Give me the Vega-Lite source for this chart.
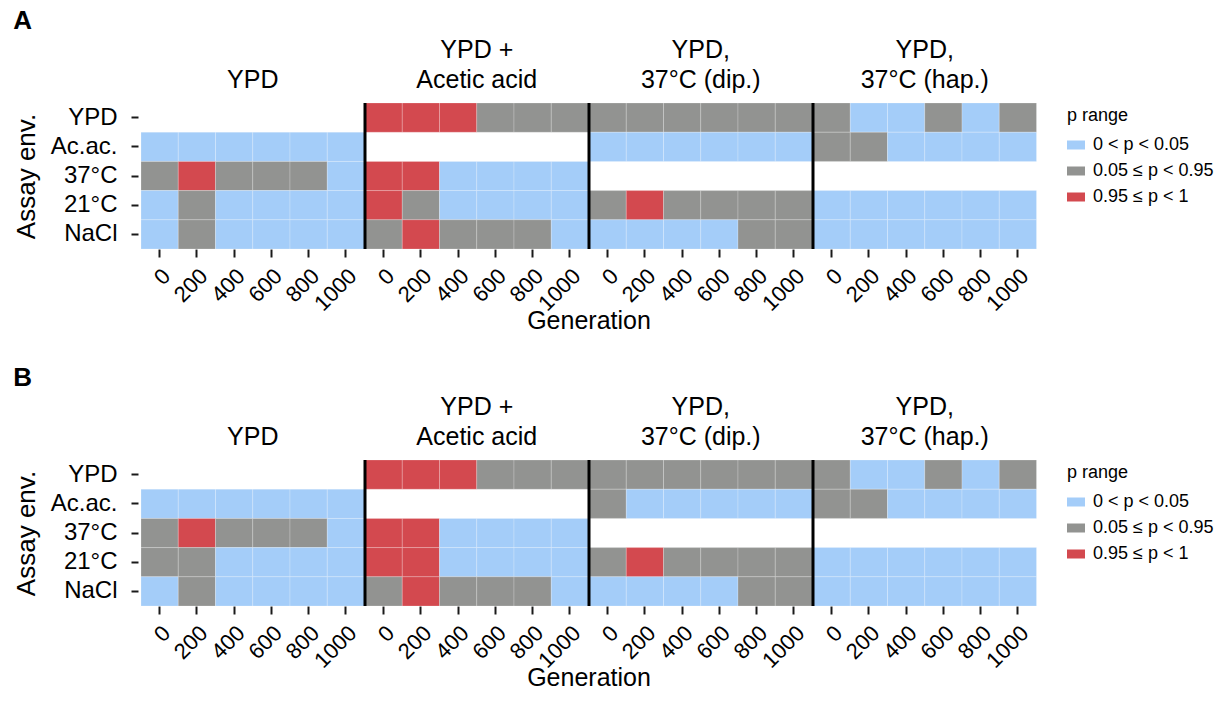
{
  "$schema": "https://vega.github.io/schema/vega-lite/v6.json",
  "padding": {"left": 13, "top": 8, "right": 2, "bottom": 4},
  "config": {
    "font": "Liberation Sans",
    "view": {"stroke": null},
    "axis": {
      "domain": false, "grid": false,
      "tickColor": "#1a1a1a", "tickWidth": 2,
      "labelColor": "#000", "titleColor": "#000",
      "labelFontSize": 24, "titleFontSize": 26, "titleFontWeight": "normal"
    },
    "header": {
      "labelFontSize": 25, "labelColor": "#000", "labelLineHeight": 30, "labelBaseline": "middle", "labelPadding": -2,
      "titleFontSize": 25, "titleFontWeight": "normal", "titleColor": "#000", "titlePadding": -16
    },
    "legend": {
      "titleFontSize": 18, "titleFontWeight": "normal", "titleColor": "#000",
      "labelFontSize": 18, "labelColor": "#000", "labelOffset": 8,
      "symbolType": "M-1,-0.5H1V0.5H-1Z", "symbolSize": 324, "symbolStrokeWidth": 0, "symbolOpacity": 1,
      "rowPadding": 8, "titlePadding": 11, "offset": 26, "padding": 4
    },
    "title": {"fontSize": 26, "fontWeight": "bold", "anchor": "start", "frame": "bounds", "color": "#000", "offset": 4}
  },
  "data": {"values": [
    {"panel":"A","condition":"YPD","env":"Ac.ac.","gen":0,"p":"0 < p < 0.05"},
    {"panel":"A","condition":"YPD","env":"Ac.ac.","gen":200,"p":"0 < p < 0.05"},
    {"panel":"A","condition":"YPD","env":"Ac.ac.","gen":400,"p":"0 < p < 0.05"},
    {"panel":"A","condition":"YPD","env":"Ac.ac.","gen":600,"p":"0 < p < 0.05"},
    {"panel":"A","condition":"YPD","env":"Ac.ac.","gen":800,"p":"0 < p < 0.05"},
    {"panel":"A","condition":"YPD","env":"Ac.ac.","gen":1000,"p":"0 < p < 0.05"},
    {"panel":"A","condition":"YPD","env":"37°C","gen":0,"p":"0.05 ≤ p < 0.95"},
    {"panel":"A","condition":"YPD","env":"37°C","gen":200,"p":"0.95 ≤ p < 1"},
    {"panel":"A","condition":"YPD","env":"37°C","gen":400,"p":"0.05 ≤ p < 0.95"},
    {"panel":"A","condition":"YPD","env":"37°C","gen":600,"p":"0.05 ≤ p < 0.95"},
    {"panel":"A","condition":"YPD","env":"37°C","gen":800,"p":"0.05 ≤ p < 0.95"},
    {"panel":"A","condition":"YPD","env":"37°C","gen":1000,"p":"0 < p < 0.05"},
    {"panel":"A","condition":"YPD","env":"21°C","gen":0,"p":"0 < p < 0.05"},
    {"panel":"A","condition":"YPD","env":"21°C","gen":200,"p":"0.05 ≤ p < 0.95"},
    {"panel":"A","condition":"YPD","env":"21°C","gen":400,"p":"0 < p < 0.05"},
    {"panel":"A","condition":"YPD","env":"21°C","gen":600,"p":"0 < p < 0.05"},
    {"panel":"A","condition":"YPD","env":"21°C","gen":800,"p":"0 < p < 0.05"},
    {"panel":"A","condition":"YPD","env":"21°C","gen":1000,"p":"0 < p < 0.05"},
    {"panel":"A","condition":"YPD","env":"NaCl","gen":0,"p":"0 < p < 0.05"},
    {"panel":"A","condition":"YPD","env":"NaCl","gen":200,"p":"0.05 ≤ p < 0.95"},
    {"panel":"A","condition":"YPD","env":"NaCl","gen":400,"p":"0 < p < 0.05"},
    {"panel":"A","condition":"YPD","env":"NaCl","gen":600,"p":"0 < p < 0.05"},
    {"panel":"A","condition":"YPD","env":"NaCl","gen":800,"p":"0 < p < 0.05"},
    {"panel":"A","condition":"YPD","env":"NaCl","gen":1000,"p":"0 < p < 0.05"},

    {"panel":"A","condition":"YPD +\nAcetic acid","env":"YPD","gen":0,"p":"0.95 ≤ p < 1"},
    {"panel":"A","condition":"YPD +\nAcetic acid","env":"YPD","gen":200,"p":"0.95 ≤ p < 1"},
    {"panel":"A","condition":"YPD +\nAcetic acid","env":"YPD","gen":400,"p":"0.95 ≤ p < 1"},
    {"panel":"A","condition":"YPD +\nAcetic acid","env":"YPD","gen":600,"p":"0.05 ≤ p < 0.95"},
    {"panel":"A","condition":"YPD +\nAcetic acid","env":"YPD","gen":800,"p":"0.05 ≤ p < 0.95"},
    {"panel":"A","condition":"YPD +\nAcetic acid","env":"YPD","gen":1000,"p":"0.05 ≤ p < 0.95"},
    {"panel":"A","condition":"YPD +\nAcetic acid","env":"37°C","gen":0,"p":"0.95 ≤ p < 1"},
    {"panel":"A","condition":"YPD +\nAcetic acid","env":"37°C","gen":200,"p":"0.95 ≤ p < 1"},
    {"panel":"A","condition":"YPD +\nAcetic acid","env":"37°C","gen":400,"p":"0 < p < 0.05"},
    {"panel":"A","condition":"YPD +\nAcetic acid","env":"37°C","gen":600,"p":"0 < p < 0.05"},
    {"panel":"A","condition":"YPD +\nAcetic acid","env":"37°C","gen":800,"p":"0 < p < 0.05"},
    {"panel":"A","condition":"YPD +\nAcetic acid","env":"37°C","gen":1000,"p":"0 < p < 0.05"},
    {"panel":"A","condition":"YPD +\nAcetic acid","env":"21°C","gen":0,"p":"0.95 ≤ p < 1"},
    {"panel":"A","condition":"YPD +\nAcetic acid","env":"21°C","gen":200,"p":"0.05 ≤ p < 0.95"},
    {"panel":"A","condition":"YPD +\nAcetic acid","env":"21°C","gen":400,"p":"0 < p < 0.05"},
    {"panel":"A","condition":"YPD +\nAcetic acid","env":"21°C","gen":600,"p":"0 < p < 0.05"},
    {"panel":"A","condition":"YPD +\nAcetic acid","env":"21°C","gen":800,"p":"0 < p < 0.05"},
    {"panel":"A","condition":"YPD +\nAcetic acid","env":"21°C","gen":1000,"p":"0 < p < 0.05"},
    {"panel":"A","condition":"YPD +\nAcetic acid","env":"NaCl","gen":0,"p":"0.05 ≤ p < 0.95"},
    {"panel":"A","condition":"YPD +\nAcetic acid","env":"NaCl","gen":200,"p":"0.95 ≤ p < 1"},
    {"panel":"A","condition":"YPD +\nAcetic acid","env":"NaCl","gen":400,"p":"0.05 ≤ p < 0.95"},
    {"panel":"A","condition":"YPD +\nAcetic acid","env":"NaCl","gen":600,"p":"0.05 ≤ p < 0.95"},
    {"panel":"A","condition":"YPD +\nAcetic acid","env":"NaCl","gen":800,"p":"0.05 ≤ p < 0.95"},
    {"panel":"A","condition":"YPD +\nAcetic acid","env":"NaCl","gen":1000,"p":"0 < p < 0.05"},

    {"panel":"A","condition":"YPD,\n37°C (dip.)","env":"YPD","gen":0,"p":"0.05 ≤ p < 0.95"},
    {"panel":"A","condition":"YPD,\n37°C (dip.)","env":"YPD","gen":200,"p":"0.05 ≤ p < 0.95"},
    {"panel":"A","condition":"YPD,\n37°C (dip.)","env":"YPD","gen":400,"p":"0.05 ≤ p < 0.95"},
    {"panel":"A","condition":"YPD,\n37°C (dip.)","env":"YPD","gen":600,"p":"0.05 ≤ p < 0.95"},
    {"panel":"A","condition":"YPD,\n37°C (dip.)","env":"YPD","gen":800,"p":"0.05 ≤ p < 0.95"},
    {"panel":"A","condition":"YPD,\n37°C (dip.)","env":"YPD","gen":1000,"p":"0.05 ≤ p < 0.95"},
    {"panel":"A","condition":"YPD,\n37°C (dip.)","env":"Ac.ac.","gen":0,"p":"0 < p < 0.05"},
    {"panel":"A","condition":"YPD,\n37°C (dip.)","env":"Ac.ac.","gen":200,"p":"0 < p < 0.05"},
    {"panel":"A","condition":"YPD,\n37°C (dip.)","env":"Ac.ac.","gen":400,"p":"0 < p < 0.05"},
    {"panel":"A","condition":"YPD,\n37°C (dip.)","env":"Ac.ac.","gen":600,"p":"0 < p < 0.05"},
    {"panel":"A","condition":"YPD,\n37°C (dip.)","env":"Ac.ac.","gen":800,"p":"0 < p < 0.05"},
    {"panel":"A","condition":"YPD,\n37°C (dip.)","env":"Ac.ac.","gen":1000,"p":"0 < p < 0.05"},
    {"panel":"A","condition":"YPD,\n37°C (dip.)","env":"21°C","gen":0,"p":"0.05 ≤ p < 0.95"},
    {"panel":"A","condition":"YPD,\n37°C (dip.)","env":"21°C","gen":200,"p":"0.95 ≤ p < 1"},
    {"panel":"A","condition":"YPD,\n37°C (dip.)","env":"21°C","gen":400,"p":"0.05 ≤ p < 0.95"},
    {"panel":"A","condition":"YPD,\n37°C (dip.)","env":"21°C","gen":600,"p":"0.05 ≤ p < 0.95"},
    {"panel":"A","condition":"YPD,\n37°C (dip.)","env":"21°C","gen":800,"p":"0.05 ≤ p < 0.95"},
    {"panel":"A","condition":"YPD,\n37°C (dip.)","env":"21°C","gen":1000,"p":"0.05 ≤ p < 0.95"},
    {"panel":"A","condition":"YPD,\n37°C (dip.)","env":"NaCl","gen":0,"p":"0 < p < 0.05"},
    {"panel":"A","condition":"YPD,\n37°C (dip.)","env":"NaCl","gen":200,"p":"0 < p < 0.05"},
    {"panel":"A","condition":"YPD,\n37°C (dip.)","env":"NaCl","gen":400,"p":"0 < p < 0.05"},
    {"panel":"A","condition":"YPD,\n37°C (dip.)","env":"NaCl","gen":600,"p":"0 < p < 0.05"},
    {"panel":"A","condition":"YPD,\n37°C (dip.)","env":"NaCl","gen":800,"p":"0.05 ≤ p < 0.95"},
    {"panel":"A","condition":"YPD,\n37°C (dip.)","env":"NaCl","gen":1000,"p":"0.05 ≤ p < 0.95"},

    {"panel":"A","condition":"YPD,\n37°C (hap.)","env":"YPD","gen":0,"p":"0.05 ≤ p < 0.95"},
    {"panel":"A","condition":"YPD,\n37°C (hap.)","env":"YPD","gen":200,"p":"0 < p < 0.05"},
    {"panel":"A","condition":"YPD,\n37°C (hap.)","env":"YPD","gen":400,"p":"0 < p < 0.05"},
    {"panel":"A","condition":"YPD,\n37°C (hap.)","env":"YPD","gen":600,"p":"0.05 ≤ p < 0.95"},
    {"panel":"A","condition":"YPD,\n37°C (hap.)","env":"YPD","gen":800,"p":"0 < p < 0.05"},
    {"panel":"A","condition":"YPD,\n37°C (hap.)","env":"YPD","gen":1000,"p":"0.05 ≤ p < 0.95"},
    {"panel":"A","condition":"YPD,\n37°C (hap.)","env":"Ac.ac.","gen":0,"p":"0.05 ≤ p < 0.95"},
    {"panel":"A","condition":"YPD,\n37°C (hap.)","env":"Ac.ac.","gen":200,"p":"0.05 ≤ p < 0.95"},
    {"panel":"A","condition":"YPD,\n37°C (hap.)","env":"Ac.ac.","gen":400,"p":"0 < p < 0.05"},
    {"panel":"A","condition":"YPD,\n37°C (hap.)","env":"Ac.ac.","gen":600,"p":"0 < p < 0.05"},
    {"panel":"A","condition":"YPD,\n37°C (hap.)","env":"Ac.ac.","gen":800,"p":"0 < p < 0.05"},
    {"panel":"A","condition":"YPD,\n37°C (hap.)","env":"Ac.ac.","gen":1000,"p":"0 < p < 0.05"},
    {"panel":"A","condition":"YPD,\n37°C (hap.)","env":"21°C","gen":0,"p":"0 < p < 0.05"},
    {"panel":"A","condition":"YPD,\n37°C (hap.)","env":"21°C","gen":200,"p":"0 < p < 0.05"},
    {"panel":"A","condition":"YPD,\n37°C (hap.)","env":"21°C","gen":400,"p":"0 < p < 0.05"},
    {"panel":"A","condition":"YPD,\n37°C (hap.)","env":"21°C","gen":600,"p":"0 < p < 0.05"},
    {"panel":"A","condition":"YPD,\n37°C (hap.)","env":"21°C","gen":800,"p":"0 < p < 0.05"},
    {"panel":"A","condition":"YPD,\n37°C (hap.)","env":"21°C","gen":1000,"p":"0 < p < 0.05"},
    {"panel":"A","condition":"YPD,\n37°C (hap.)","env":"NaCl","gen":0,"p":"0 < p < 0.05"},
    {"panel":"A","condition":"YPD,\n37°C (hap.)","env":"NaCl","gen":200,"p":"0 < p < 0.05"},
    {"panel":"A","condition":"YPD,\n37°C (hap.)","env":"NaCl","gen":400,"p":"0 < p < 0.05"},
    {"panel":"A","condition":"YPD,\n37°C (hap.)","env":"NaCl","gen":600,"p":"0 < p < 0.05"},
    {"panel":"A","condition":"YPD,\n37°C (hap.)","env":"NaCl","gen":800,"p":"0 < p < 0.05"},
    {"panel":"A","condition":"YPD,\n37°C (hap.)","env":"NaCl","gen":1000,"p":"0 < p < 0.05"},

    {"panel":"B","condition":"YPD","env":"Ac.ac.","gen":0,"p":"0 < p < 0.05"},
    {"panel":"B","condition":"YPD","env":"Ac.ac.","gen":200,"p":"0 < p < 0.05"},
    {"panel":"B","condition":"YPD","env":"Ac.ac.","gen":400,"p":"0 < p < 0.05"},
    {"panel":"B","condition":"YPD","env":"Ac.ac.","gen":600,"p":"0 < p < 0.05"},
    {"panel":"B","condition":"YPD","env":"Ac.ac.","gen":800,"p":"0 < p < 0.05"},
    {"panel":"B","condition":"YPD","env":"Ac.ac.","gen":1000,"p":"0 < p < 0.05"},
    {"panel":"B","condition":"YPD","env":"37°C","gen":0,"p":"0.05 ≤ p < 0.95"},
    {"panel":"B","condition":"YPD","env":"37°C","gen":200,"p":"0.95 ≤ p < 1"},
    {"panel":"B","condition":"YPD","env":"37°C","gen":400,"p":"0.05 ≤ p < 0.95"},
    {"panel":"B","condition":"YPD","env":"37°C","gen":600,"p":"0.05 ≤ p < 0.95"},
    {"panel":"B","condition":"YPD","env":"37°C","gen":800,"p":"0.05 ≤ p < 0.95"},
    {"panel":"B","condition":"YPD","env":"37°C","gen":1000,"p":"0 < p < 0.05"},
    {"panel":"B","condition":"YPD","env":"21°C","gen":0,"p":"0.05 ≤ p < 0.95"},
    {"panel":"B","condition":"YPD","env":"21°C","gen":200,"p":"0.05 ≤ p < 0.95"},
    {"panel":"B","condition":"YPD","env":"21°C","gen":400,"p":"0 < p < 0.05"},
    {"panel":"B","condition":"YPD","env":"21°C","gen":600,"p":"0 < p < 0.05"},
    {"panel":"B","condition":"YPD","env":"21°C","gen":800,"p":"0 < p < 0.05"},
    {"panel":"B","condition":"YPD","env":"21°C","gen":1000,"p":"0 < p < 0.05"},
    {"panel":"B","condition":"YPD","env":"NaCl","gen":0,"p":"0 < p < 0.05"},
    {"panel":"B","condition":"YPD","env":"NaCl","gen":200,"p":"0.05 ≤ p < 0.95"},
    {"panel":"B","condition":"YPD","env":"NaCl","gen":400,"p":"0 < p < 0.05"},
    {"panel":"B","condition":"YPD","env":"NaCl","gen":600,"p":"0 < p < 0.05"},
    {"panel":"B","condition":"YPD","env":"NaCl","gen":800,"p":"0 < p < 0.05"},
    {"panel":"B","condition":"YPD","env":"NaCl","gen":1000,"p":"0 < p < 0.05"},

    {"panel":"B","condition":"YPD +\nAcetic acid","env":"YPD","gen":0,"p":"0.95 ≤ p < 1"},
    {"panel":"B","condition":"YPD +\nAcetic acid","env":"YPD","gen":200,"p":"0.95 ≤ p < 1"},
    {"panel":"B","condition":"YPD +\nAcetic acid","env":"YPD","gen":400,"p":"0.95 ≤ p < 1"},
    {"panel":"B","condition":"YPD +\nAcetic acid","env":"YPD","gen":600,"p":"0.05 ≤ p < 0.95"},
    {"panel":"B","condition":"YPD +\nAcetic acid","env":"YPD","gen":800,"p":"0.05 ≤ p < 0.95"},
    {"panel":"B","condition":"YPD +\nAcetic acid","env":"YPD","gen":1000,"p":"0.05 ≤ p < 0.95"},
    {"panel":"B","condition":"YPD +\nAcetic acid","env":"37°C","gen":0,"p":"0.95 ≤ p < 1"},
    {"panel":"B","condition":"YPD +\nAcetic acid","env":"37°C","gen":200,"p":"0.95 ≤ p < 1"},
    {"panel":"B","condition":"YPD +\nAcetic acid","env":"37°C","gen":400,"p":"0 < p < 0.05"},
    {"panel":"B","condition":"YPD +\nAcetic acid","env":"37°C","gen":600,"p":"0 < p < 0.05"},
    {"panel":"B","condition":"YPD +\nAcetic acid","env":"37°C","gen":800,"p":"0 < p < 0.05"},
    {"panel":"B","condition":"YPD +\nAcetic acid","env":"37°C","gen":1000,"p":"0 < p < 0.05"},
    {"panel":"B","condition":"YPD +\nAcetic acid","env":"21°C","gen":0,"p":"0.95 ≤ p < 1"},
    {"panel":"B","condition":"YPD +\nAcetic acid","env":"21°C","gen":200,"p":"0.95 ≤ p < 1"},
    {"panel":"B","condition":"YPD +\nAcetic acid","env":"21°C","gen":400,"p":"0 < p < 0.05"},
    {"panel":"B","condition":"YPD +\nAcetic acid","env":"21°C","gen":600,"p":"0 < p < 0.05"},
    {"panel":"B","condition":"YPD +\nAcetic acid","env":"21°C","gen":800,"p":"0 < p < 0.05"},
    {"panel":"B","condition":"YPD +\nAcetic acid","env":"21°C","gen":1000,"p":"0 < p < 0.05"},
    {"panel":"B","condition":"YPD +\nAcetic acid","env":"NaCl","gen":0,"p":"0.05 ≤ p < 0.95"},
    {"panel":"B","condition":"YPD +\nAcetic acid","env":"NaCl","gen":200,"p":"0.95 ≤ p < 1"},
    {"panel":"B","condition":"YPD +\nAcetic acid","env":"NaCl","gen":400,"p":"0.05 ≤ p < 0.95"},
    {"panel":"B","condition":"YPD +\nAcetic acid","env":"NaCl","gen":600,"p":"0.05 ≤ p < 0.95"},
    {"panel":"B","condition":"YPD +\nAcetic acid","env":"NaCl","gen":800,"p":"0.05 ≤ p < 0.95"},
    {"panel":"B","condition":"YPD +\nAcetic acid","env":"NaCl","gen":1000,"p":"0 < p < 0.05"},

    {"panel":"B","condition":"YPD,\n37°C (dip.)","env":"YPD","gen":0,"p":"0.05 ≤ p < 0.95"},
    {"panel":"B","condition":"YPD,\n37°C (dip.)","env":"YPD","gen":200,"p":"0.05 ≤ p < 0.95"},
    {"panel":"B","condition":"YPD,\n37°C (dip.)","env":"YPD","gen":400,"p":"0.05 ≤ p < 0.95"},
    {"panel":"B","condition":"YPD,\n37°C (dip.)","env":"YPD","gen":600,"p":"0.05 ≤ p < 0.95"},
    {"panel":"B","condition":"YPD,\n37°C (dip.)","env":"YPD","gen":800,"p":"0.05 ≤ p < 0.95"},
    {"panel":"B","condition":"YPD,\n37°C (dip.)","env":"YPD","gen":1000,"p":"0.05 ≤ p < 0.95"},
    {"panel":"B","condition":"YPD,\n37°C (dip.)","env":"Ac.ac.","gen":0,"p":"0.05 ≤ p < 0.95"},
    {"panel":"B","condition":"YPD,\n37°C (dip.)","env":"Ac.ac.","gen":200,"p":"0 < p < 0.05"},
    {"panel":"B","condition":"YPD,\n37°C (dip.)","env":"Ac.ac.","gen":400,"p":"0 < p < 0.05"},
    {"panel":"B","condition":"YPD,\n37°C (dip.)","env":"Ac.ac.","gen":600,"p":"0 < p < 0.05"},
    {"panel":"B","condition":"YPD,\n37°C (dip.)","env":"Ac.ac.","gen":800,"p":"0 < p < 0.05"},
    {"panel":"B","condition":"YPD,\n37°C (dip.)","env":"Ac.ac.","gen":1000,"p":"0 < p < 0.05"},
    {"panel":"B","condition":"YPD,\n37°C (dip.)","env":"21°C","gen":0,"p":"0.05 ≤ p < 0.95"},
    {"panel":"B","condition":"YPD,\n37°C (dip.)","env":"21°C","gen":200,"p":"0.95 ≤ p < 1"},
    {"panel":"B","condition":"YPD,\n37°C (dip.)","env":"21°C","gen":400,"p":"0.05 ≤ p < 0.95"},
    {"panel":"B","condition":"YPD,\n37°C (dip.)","env":"21°C","gen":600,"p":"0.05 ≤ p < 0.95"},
    {"panel":"B","condition":"YPD,\n37°C (dip.)","env":"21°C","gen":800,"p":"0.05 ≤ p < 0.95"},
    {"panel":"B","condition":"YPD,\n37°C (dip.)","env":"21°C","gen":1000,"p":"0.05 ≤ p < 0.95"},
    {"panel":"B","condition":"YPD,\n37°C (dip.)","env":"NaCl","gen":0,"p":"0 < p < 0.05"},
    {"panel":"B","condition":"YPD,\n37°C (dip.)","env":"NaCl","gen":200,"p":"0 < p < 0.05"},
    {"panel":"B","condition":"YPD,\n37°C (dip.)","env":"NaCl","gen":400,"p":"0 < p < 0.05"},
    {"panel":"B","condition":"YPD,\n37°C (dip.)","env":"NaCl","gen":600,"p":"0 < p < 0.05"},
    {"panel":"B","condition":"YPD,\n37°C (dip.)","env":"NaCl","gen":800,"p":"0.05 ≤ p < 0.95"},
    {"panel":"B","condition":"YPD,\n37°C (dip.)","env":"NaCl","gen":1000,"p":"0.05 ≤ p < 0.95"},

    {"panel":"B","condition":"YPD,\n37°C (hap.)","env":"YPD","gen":0,"p":"0.05 ≤ p < 0.95"},
    {"panel":"B","condition":"YPD,\n37°C (hap.)","env":"YPD","gen":200,"p":"0 < p < 0.05"},
    {"panel":"B","condition":"YPD,\n37°C (hap.)","env":"YPD","gen":400,"p":"0 < p < 0.05"},
    {"panel":"B","condition":"YPD,\n37°C (hap.)","env":"YPD","gen":600,"p":"0.05 ≤ p < 0.95"},
    {"panel":"B","condition":"YPD,\n37°C (hap.)","env":"YPD","gen":800,"p":"0 < p < 0.05"},
    {"panel":"B","condition":"YPD,\n37°C (hap.)","env":"YPD","gen":1000,"p":"0.05 ≤ p < 0.95"},
    {"panel":"B","condition":"YPD,\n37°C (hap.)","env":"Ac.ac.","gen":0,"p":"0.05 ≤ p < 0.95"},
    {"panel":"B","condition":"YPD,\n37°C (hap.)","env":"Ac.ac.","gen":200,"p":"0.05 ≤ p < 0.95"},
    {"panel":"B","condition":"YPD,\n37°C (hap.)","env":"Ac.ac.","gen":400,"p":"0 < p < 0.05"},
    {"panel":"B","condition":"YPD,\n37°C (hap.)","env":"Ac.ac.","gen":600,"p":"0 < p < 0.05"},
    {"panel":"B","condition":"YPD,\n37°C (hap.)","env":"Ac.ac.","gen":800,"p":"0 < p < 0.05"},
    {"panel":"B","condition":"YPD,\n37°C (hap.)","env":"Ac.ac.","gen":1000,"p":"0 < p < 0.05"},
    {"panel":"B","condition":"YPD,\n37°C (hap.)","env":"21°C","gen":0,"p":"0 < p < 0.05"},
    {"panel":"B","condition":"YPD,\n37°C (hap.)","env":"21°C","gen":200,"p":"0 < p < 0.05"},
    {"panel":"B","condition":"YPD,\n37°C (hap.)","env":"21°C","gen":400,"p":"0 < p < 0.05"},
    {"panel":"B","condition":"YPD,\n37°C (hap.)","env":"21°C","gen":600,"p":"0 < p < 0.05"},
    {"panel":"B","condition":"YPD,\n37°C (hap.)","env":"21°C","gen":800,"p":"0 < p < 0.05"},
    {"panel":"B","condition":"YPD,\n37°C (hap.)","env":"21°C","gen":1000,"p":"0 < p < 0.05"},
    {"panel":"B","condition":"YPD,\n37°C (hap.)","env":"NaCl","gen":0,"p":"0 < p < 0.05"},
    {"panel":"B","condition":"YPD,\n37°C (hap.)","env":"NaCl","gen":200,"p":"0 < p < 0.05"},
    {"panel":"B","condition":"YPD,\n37°C (hap.)","env":"NaCl","gen":400,"p":"0 < p < 0.05"},
    {"panel":"B","condition":"YPD,\n37°C (hap.)","env":"NaCl","gen":600,"p":"0 < p < 0.05"},
    {"panel":"B","condition":"YPD,\n37°C (hap.)","env":"NaCl","gen":800,"p":"0 < p < 0.05"},
    {"panel":"B","condition":"YPD,\n37°C (hap.)","env":"NaCl","gen":1000,"p":"0 < p < 0.05"}
  ]},
  "resolve": {"scale": {"color": "independent"}, "legend": {"color": "independent"}},
  "spacing": 31,
  "vconcat": [
    {
      "title": {"text": "A"},
      "transform": [{"filter": "datum.panel === 'A'"}],
      "spacing": 0,
      "bounds": "flush",
      "facet": {"column": {
        "field": "condition", "type": "nominal", "title": "Generation",
        "sort": ["YPD", "YPD +\nAcetic acid", "YPD,\n37°C (dip.)", "YPD,\n37°C (hap.)"],
        "header": {"titleOrient": "bottom", "labelOrient": "top", "labelExpr": "split(datum.label, '\\n')"}
      }},
      "spec": {
        "width": 223.5, "height": 146,
        "layer": [
          {
            "mark": {"type": "rect", "stroke": "#ffffff", "strokeWidth": 0.6, "strokeOpacity": 0.35},
            "encoding": {
              "x": {"field": "gen", "type": "ordinal",
                "scale": {"domain": [0, 200, 400, 600, 800, 1000], "paddingInner": 0, "paddingOuter": 0},
                "axis": {"title": null, "labelAngle": -45, "labelAlign": "right", "labelBaseline": "top", "labelFontSize": 22, "tickSize": 8, "labelPadding": 8}},
              "y": {"field": "env", "type": "ordinal",
                "scale": {"domain": ["YPD", "Ac.ac.", "37°C", "21°C", "NaCl"], "paddingInner": 0, "paddingOuter": 0},
                "axis": {"title": "Assay env.", "tickSize": 7, "labelPadding": 14, "offset": 3, "titlePadding": 11}},
              "color": {"field": "p", "type": "nominal",
                "scale": {"domain": ["0 < p < 0.05", "0.05 ≤ p < 0.95", "0.95 ≤ p < 1"], "range": ["#a4cdf9", "#929391", "#d3494f"]},
                "legend": {"title": "p range"}}
            }
          },
          {
            "transform": [{"filter": "datum.env === 'NaCl' && datum.gen === 0 && datum.condition !== 'YPD'"}],
            "mark": {"type": "rule", "color": "#000000", "strokeWidth": 3},
            "encoding": {"x": {"field": "gen", "type": "ordinal", "bandPosition": 0}}
          }
        ]
      }
    },
    {
      "title": {"text": "B"},
      "transform": [{"filter": "datum.panel === 'B'"}],
      "spacing": 0,
      "bounds": "flush",
      "facet": {"column": {
        "field": "condition", "type": "nominal", "title": "Generation",
        "sort": ["YPD", "YPD +\nAcetic acid", "YPD,\n37°C (dip.)", "YPD,\n37°C (hap.)"],
        "header": {"titleOrient": "bottom", "labelOrient": "top", "labelExpr": "split(datum.label, '\\n')"}
      }},
      "spec": {
        "width": 223.5, "height": 146,
        "layer": [
          {
            "mark": {"type": "rect", "stroke": "#ffffff", "strokeWidth": 0.6, "strokeOpacity": 0.35},
            "encoding": {
              "x": {"field": "gen", "type": "ordinal",
                "scale": {"domain": [0, 200, 400, 600, 800, 1000], "paddingInner": 0, "paddingOuter": 0},
                "axis": {"title": null, "labelAngle": -45, "labelAlign": "right", "labelBaseline": "top", "labelFontSize": 22, "tickSize": 8, "labelPadding": 8}},
              "y": {"field": "env", "type": "ordinal",
                "scale": {"domain": ["YPD", "Ac.ac.", "37°C", "21°C", "NaCl"], "paddingInner": 0, "paddingOuter": 0},
                "axis": {"title": "Assay env.", "tickSize": 7, "labelPadding": 14, "offset": 3, "titlePadding": 11}},
              "color": {"field": "p", "type": "nominal",
                "scale": {"domain": ["0 < p < 0.05", "0.05 ≤ p < 0.95", "0.95 ≤ p < 1"], "range": ["#a4cdf9", "#929391", "#d3494f"]},
                "legend": {"title": "p range"}}
            }
          },
          {
            "transform": [{"filter": "datum.env === 'NaCl' && datum.gen === 0 && datum.condition !== 'YPD'"}],
            "mark": {"type": "rule", "color": "#000000", "strokeWidth": 3},
            "encoding": {"x": {"field": "gen", "type": "ordinal", "bandPosition": 0}}
          }
        ]
      }
    }
  ]
}
